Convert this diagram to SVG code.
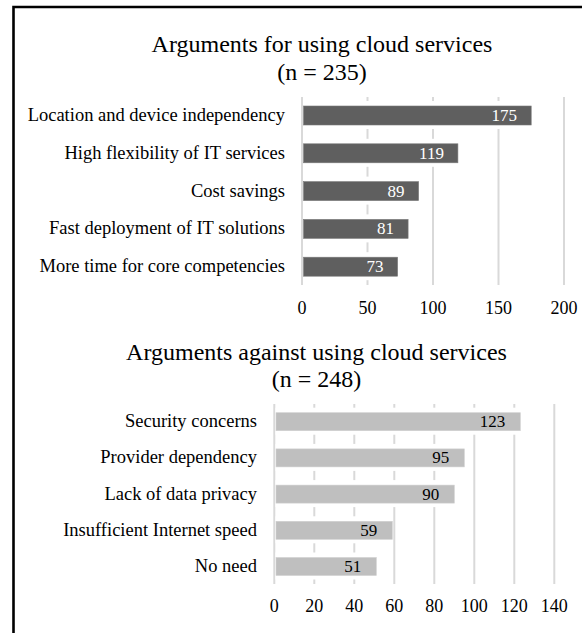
<svg xmlns="http://www.w3.org/2000/svg" width="582" height="633" viewBox="0 0 582 633">
<style>
.t{font-family:"Liberation Serif","Times New Roman",serif;fill:#000}
.title{font-size:24px;text-anchor:middle}
.lab{font-size:18.5px;text-anchor:end}
.tick{font-size:18px;text-anchor:middle}
.dl{font-size:17px;text-anchor:end}
.grid{stroke:#d9d9d9;stroke-width:2}
.gap{fill:#fff}
.barA{fill:#5f5f5f;stroke:#7a7a7a;stroke-width:0.6}
.barB{fill:#bfbfbf;stroke:#d0d0d0;stroke-width:0.6}
</style>
<rect width="582" height="633" fill="#fff"/>
<path d="M13.5,633 V7 H582" fill="none" stroke="#000" stroke-width="2.6"/>

<g id="chart-for">
  <text class="t title" x="322" y="52">Arguments for using cloud services</text>
  <text class="t title" x="322" y="80">(n = 235)</text>
  <g id="grid-for">
    <line class="grid" x1="302" y1="97" x2="302" y2="285"/>
    <line class="grid" x1="367.5" y1="97" x2="367.5" y2="285"/>
    <line class="grid" x1="433" y1="97" x2="433" y2="285"/>
    <line class="grid" x1="498.5" y1="97" x2="498.5" y2="285"/>
    <line class="grid" x1="564" y1="97" x2="564" y2="285"/>
  </g>
  <g id="for-1">
    <rect class="gap" x="303" y="101" width="228.3" height="28"/>
    <rect class="barA" x="303.5" y="106" width="227.7" height="19"/>
    <text class="t lab" x="285" y="121">Location and device independency </text>
    <text class="t dl" x="517" y="121" fill="#fff" style="fill:#fff">175</text>
  </g>
  <g id="for-2">
    <rect class="gap" x="303" y="138.8" width="154.9" height="28"/>
    <rect class="barA" x="303.5" y="143.8" width="154.4" height="19"/>
    <text class="t lab" x="285" y="158.8">High flexibility of IT services</text>
    <text class="t dl" x="443.9" y="158.8" style="fill:#fff">119</text>
  </g>
  <g id="for-3">
    <rect class="gap" x="303" y="176.6" width="115.6" height="28"/>
    <rect class="barA" x="303.5" y="181.6" width="115.1" height="19"/>
    <text class="t lab" x="285" y="196.6">Cost savings</text>
    <text class="t dl" x="404.6" y="196.6" style="fill:#fff">89</text>
  </g>
  <g id="for-4">
    <rect class="gap" x="303" y="214.4" width="105.1" height="28"/>
    <rect class="barA" x="303.5" y="219.4" width="104.6" height="19"/>
    <text class="t lab" x="285" y="234.4">Fast deployment of IT solutions</text>
    <text class="t dl" x="394.1" y="234.4" style="fill:#fff">81</text>
  </g>
  <g id="for-5">
    <rect class="gap" x="303" y="252.2" width="94.6" height="28"/>
    <rect class="barA" x="303.5" y="257.2" width="94.1" height="19"/>
    <text class="t lab" x="285" y="272.2">More time for core competencies</text>
    <text class="t dl" x="383.6" y="272.2" style="fill:#fff">73</text>
  </g>
  <g id="axis-for">
    <text class="t tick" x="302" y="314">0</text>
    <text class="t tick" x="367.5" y="314">50</text>
    <text class="t tick" x="433" y="314">100</text>
    <text class="t tick" x="498.5" y="314">150</text>
    <text class="t tick" x="564" y="314">200</text>
  </g>
</g>

<g id="chart-against">
  <text class="t title" x="316.5" y="359.5">Arguments against using cloud services</text>
  <text class="t title" x="316.5" y="387">(n = 248)</text>
  <g id="grid-against">
    <line class="grid" x1="274.3" y1="404" x2="274.3" y2="584"/>
    <line class="grid" x1="314.3" y1="404" x2="314.3" y2="584"/>
    <line class="grid" x1="354.3" y1="404" x2="354.3" y2="584"/>
    <line class="grid" x1="394.3" y1="404" x2="394.3" y2="584"/>
    <line class="grid" x1="434.3" y1="404" x2="434.3" y2="584"/>
    <line class="grid" x1="474.3" y1="404" x2="474.3" y2="584"/>
    <line class="grid" x1="514.3" y1="404" x2="514.3" y2="584"/>
    <line class="grid" x1="554.3" y1="404" x2="554.3" y2="584"/>
  </g>
  <g id="against-1">
    <rect class="gap" x="275.5" y="407.7" width="244.8" height="27"/>
    <rect class="barB" x="276" y="412.7" width="244.3" height="18"/>
    <text class="t lab" x="257" y="427.2">Security concerns</text>
    <text class="t dl" x="505.3" y="427.2">123</text>
  </g>
  <g id="against-2">
    <rect class="gap" x="275.5" y="443.9" width="188.8" height="27"/>
    <rect class="barB" x="276" y="448.9" width="188.3" height="18"/>
    <text class="t lab" x="257" y="463.4">Provider dependency</text>
    <text class="t dl" x="449.3" y="463.4">95</text>
  </g>
  <g id="against-3">
    <rect class="gap" x="275.5" y="480.1" width="178.8" height="27"/>
    <rect class="barB" x="276" y="485.1" width="178.3" height="18"/>
    <text class="t lab" x="257" y="499.6">Lack of data privacy </text>
    <text class="t dl" x="439.3" y="499.6">90</text>
  </g>
  <g id="against-4">
    <rect class="gap" x="275.5" y="516.3" width="116.8" height="27"/>
    <rect class="barB" x="276" y="521.3" width="116.3" height="18"/>
    <text class="t lab" x="257" y="535.8">Insufficient Internet speed</text>
    <text class="t dl" x="377.3" y="535.8">59</text>
  </g>
  <g id="against-5">
    <rect class="gap" x="275.5" y="552.5" width="100.8" height="27"/>
    <rect class="barB" x="276" y="557.5" width="100.3" height="18"/>
    <text class="t lab" x="257" y="572">No need</text>
    <text class="t dl" x="361.3" y="572">51</text>
  </g>
  <g id="axis-against">
    <text class="t tick" x="274.3" y="611.5">0</text>
    <text class="t tick" x="314.3" y="611.5">20</text>
    <text class="t tick" x="354.3" y="611.5">40</text>
    <text class="t tick" x="394.3" y="611.5">60</text>
    <text class="t tick" x="434.3" y="611.5">80</text>
    <text class="t tick" x="474.3" y="611.5">100</text>
    <text class="t tick" x="514.3" y="611.5">120</text>
    <text class="t tick" x="554.3" y="611.5">140</text>
  </g>
</g>
</svg>
